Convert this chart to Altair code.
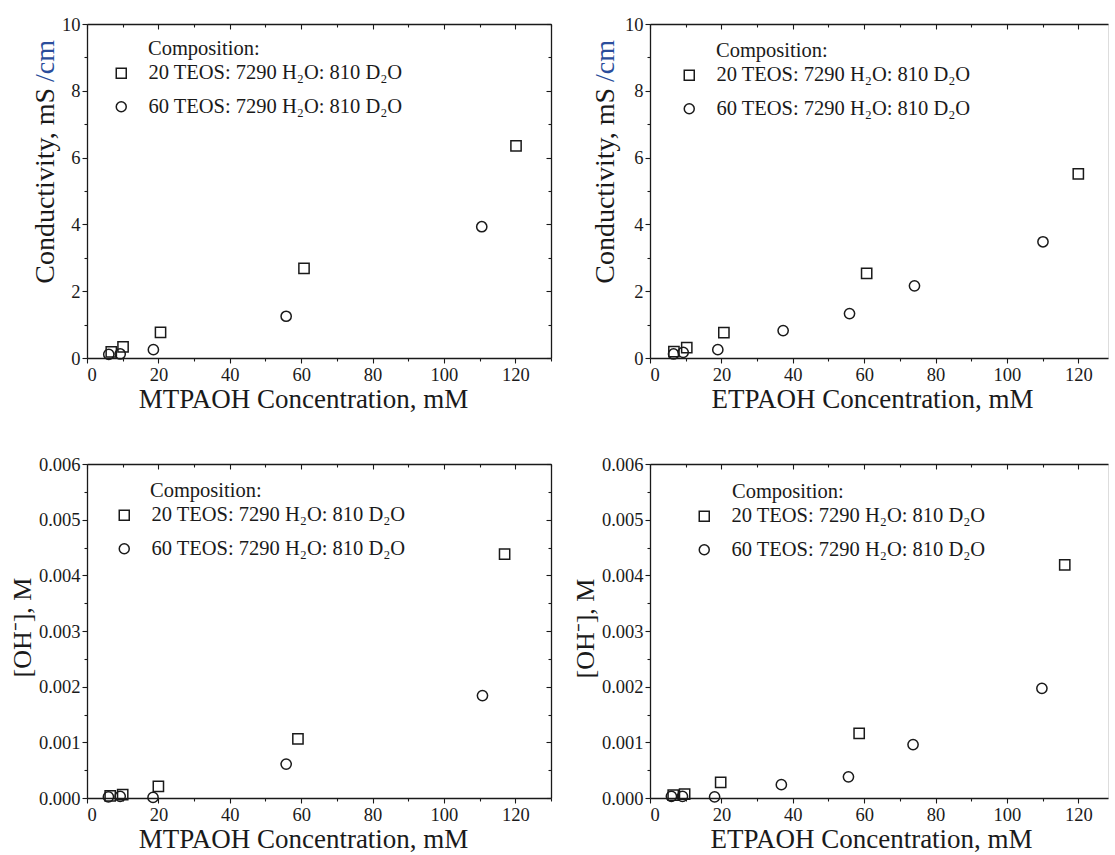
import altair as alt
import pandas as pd

FONT = "Liberation Serif"
S1 = "20 TEOS: 7290 H\u2082O: 810 D\u2082O"
S2 = "60 TEOS: 7290 H\u2082O: 810 D\u2082O"
LEGEND_HEAD = ["Composition:"]
COND_TITLE = ["Conductivity, mS", "/cm"]
OH_TITLE = "[OH\u207b], M"

# ---- data ----
# Panel A: MTPAOH, conductivity (mS/cm)
a_sq_x = [6.8, 10.1, 20.6, 60.8, 120.2]
a_sq_y = [0.18, 0.33, 0.77, 2.68, 6.35]
a_ci_x = [6.1, 9.3, 18.6, 55.8, 110.6]
a_ci_y = [0.11, 0.12, 0.25, 1.25, 3.93]

# Panel B: ETPAOH, conductivity (mS/cm)
b_sq_x = [6.7, 10.3, 20.7, 60.7, 120.0]
b_sq_y = [0.19, 0.31, 0.76, 2.53, 5.51]
b_ci_x = [6.6, 9.3, 19.0, 37.3, 55.9, 74.1, 110.1]
b_ci_y = [0.12, 0.17, 0.25, 0.82, 1.33, 2.16, 3.48]

# Panel C: MTPAOH, [OH-] (M)
c_sq_x = [6.5, 10.0, 20.0, 59.1, 117.0]
c_sq_y = [0.00004, 0.00006, 0.00021, 0.00106, 0.00438]
c_ci_x = [6.0, 9.3, 18.5, 55.8, 110.8]
c_ci_y = [0.00002, 0.00003, 0.00001, 0.00061, 0.00184]

# Panel D: ETPAOH, [OH-] (M)
d_sq_x = [6.5, 9.7, 19.8, 58.6, 116.2]
d_sq_y = [0.00005, 0.00007, 0.00028, 0.00116, 0.00419]
d_ci_x = [6.0, 9.1, 18.1, 36.8, 55.6, 73.7, 109.8]
d_ci_y = [0.00003, 0.00003, 0.00002, 0.00024, 0.00038, 0.00096, 0.00197]

X_MAJOR = [0, 20, 40, 60, 80, 100, 120]
X_MINOR = [10, 30, 50, 70, 90, 110, 130]
COND_MAJOR = [0, 2, 4, 6, 8, 10]
COND_MINOR = [1, 3, 5, 7, 9]
OH_MAJOR = [0, 0.001, 0.002, 0.003, 0.004, 0.005, 0.006]
OH_MINOR = [0.0005, 0.0015, 0.0025, 0.0035, 0.0045, 0.0055]

PX_PER_UNIT = 464 / 130
H = 334
INK = "#1a1a1a"
BLUE = "#2a4d9b"


def make_df(sq_x, sq_y, ci_x, ci_y):
    return pd.DataFrame({
        "x": sq_x + ci_x,
        "y": sq_y + ci_y,
        "series": [S1] * len(sq_x) + [S2] * len(ci_x),
    })


def axis(values, orient, tick, labels=False, domain=False, offset=0,
         title=None, fmt=None, title_size=26, **kw):
    args = dict(values=values, orient=orient, tickSize=tick, labels=labels,
                domain=domain, grid=False, offset=offset, tickColor=INK,
                tickWidth=1.1, domainColor=INK, domainWidth=1.3,
                labelFont=FONT, labelFontSize=18.5, labelColor=INK,
                labelPadding=2, titleFont=FONT, titleFontSize=title_size,
                titleFontWeight="normal", titleColor=INK)
    args["title"] = title
    if fmt is not None:
        args["format"] = fmt
    args.update(kw)
    return alt.Axis(**args)


def panel(df, xtitle, ytitle, ymax, ymaj, ymin, yfmt, width, right_axis,
          leg_x, leg_y, head_x, head_y, title_x, title_y, ytx=None):
    xmax = width / PX_PER_UNIT
    xs = alt.Scale(domain=[0, xmax], nice=False, zero=False)
    ys = alt.Scale(domain=[0, ymax], nice=False, zero=False)
    xmin_vals = [v for v in X_MINOR if v <= xmax]
    base = alt.Chart(df)

    pts = base.mark_point(filled=False, size=105, strokeWidth=1.5,
                          color=INK, opacity=1).encode(
        x=alt.X("x:Q", scale=xs,
                axis=axis(X_MAJOR, "bottom", 5, labels=True, domain=True,
                          title=xtitle, fmt="d", titlePadding=3,
                          titleX=title_x, title_size=27)),
        y=alt.Y("y:Q", scale=ys,
                axis=axis(ymaj, "left", 5, labels=True, domain=True,
                          title=ytitle, fmt=yfmt, titlePadding=3,
                          titleY=title_y)),
        shape=alt.Shape(
            "series:N",
            scale=alt.Scale(domain=[S1, S2], range=["square", "circle"]),
            legend=alt.Legend(
                title=None,
                orient="none", legendX=leg_x, legendY=leg_y, padding=0,
                labelFont=FONT, labelFontSize=20.5, labelColor=INK,
                labelOffset=17, labelLimit=500, rowPadding=12.5,
                symbolSize=100, symbolStrokeWidth=1.5,
                symbolStrokeColor=INK, symbolFillColor="transparent"),
        ),
    )

    head = alt.Chart(pd.DataFrame({"t": LEGEND_HEAD})).mark_text(
        font=FONT, fontSize=20.5, color=INK, align="left", baseline="middle"
    ).encode(text="t:N", x=alt.value(head_x), y=alt.value(head_y))

    minor = base.mark_point(opacity=0).encode(
        x=alt.X("x:Q", scale=xs, axis=axis(xmin_vals, "bottom", 3)),
        y=alt.Y("y:Q", scale=ys, axis=axis(ymin, "left", 3)),
    )

    top_major = base.mark_point(opacity=0).encode(
        x=alt.X("x:Q", scale=xs,
                axis=axis(X_MAJOR, "bottom", 5, domain=True, offset=-H)),
        y=alt.Y("y:Q", scale=ys,
                axis=(axis(ymaj, "left", 5, domain=True, offset=-width)
                      if right_axis else None)),
    )
    top_minor = base.mark_point(opacity=0).encode(
        x=alt.X("x:Q", scale=xs,
                axis=axis(xmin_vals, "bottom", 3, offset=-H)),
        y=alt.Y("y:Q", scale=ys,
                axis=(axis(ymin, "left", 3, offset=-width)
                      if right_axis else None)),
    )

    layers = [pts, minor, top_major, top_minor, head]

    if ytx is not None:
        # two-coloured rotated y title: "Conductivity, mS" + "/cm"
        t1 = alt.Chart(pd.DataFrame({"t": [COND_TITLE[0]]})).mark_text(
            font=FONT, fontSize=28, color=INK, angle=270,
            align="right", baseline="middle"
        ).encode(text="t:N", x=alt.value(ytx), y=alt.value(64))
        t2 = alt.Chart(pd.DataFrame({"t": [COND_TITLE[1]]})).mark_text(
            font=FONT, fontSize=28, color=BLUE, angle=270,
            align="left", baseline="middle"
        ).encode(text="t:N", x=alt.value(ytx), y=alt.value(58))
        layers += [t1, t2]

    return alt.layer(*layers).resolve_axis(
        x="independent", y="independent"
    ).properties(width=width, height=H)


pA = panel(make_df(a_sq_x, a_sq_y, a_ci_x, a_ci_y),
           "MTPAOH Concentration, mM", None, 10,
           COND_MAJOR, COND_MINOR, "d", 464, True,
           24, 39, 61, 25, 216, 134, ytx=-41)
pB = panel(make_df(b_sq_x, b_sq_y, b_ci_x, b_ci_y),
           "ETPAOH Concentration, mM", None, 10,
           COND_MAJOR, COND_MINOR, "d", 458, False,
           29, 41, 66, 27, 222, 138, ytx=-44)
pC = panel(make_df(c_sq_x, c_sq_y, c_ci_x, c_ci_y),
           "MTPAOH Concentration, mM", OH_TITLE, 0.006,
           OH_MAJOR, OH_MINOR, ".3f", 464, True,
           27, 41, 63, 27, 216, 163)
pD = panel(make_df(d_sq_x, d_sq_y, d_ci_x, d_ci_y),
           "ETPAOH Concentration, mM", OH_TITLE, 0.006,
           OH_MAJOR, OH_MINOR, ".3f", 458, False,
           44, 42, 82, 28, 221, 164)

chart = alt.concat(
    pA, pB, pC, pD, columns=2,
    spacing={"row": 106, "column": 99}, bounds="flush",
    padding={"left": 8, "top": 14, "right": 0, "bottom": 0},
).resolve_scale(
    shape="independent"
).resolve_legend(
    shape="independent"
).configure_view(stroke=None).configure(background="white")

chart.save("out.html", embed_options={"renderer": "svg", "actions": False})
